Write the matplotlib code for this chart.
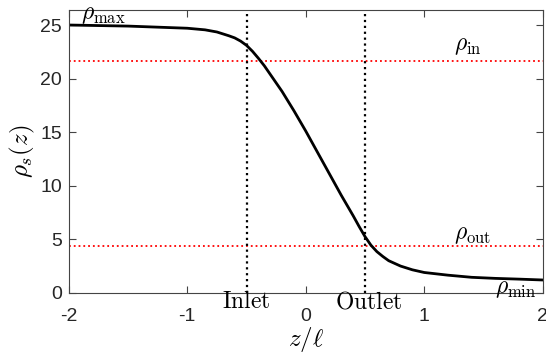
import numpy as np
import matplotlib.pyplot as plt

plt.rcParams['font.family'] = ['Liberation Sans', 'DejaVu Sans']
plt.rcParams['mathtext.fontset'] = 'cm'
plt.rcParams['axes.unicode_minus'] = False

# profile
z = [-2, -1.75, -1.5, -1.25, -1, -0.85, -0.75, -0.65, -0.6, -0.55, -0.5, -0.45,
     -0.4, -0.35, -0.3, -0.2, -0.1, 0, 0.1, 0.2, 0.3, 0.4, 0.45, 0.5, 0.55, 0.6,
     0.65, 0.7, 0.8, 0.9, 1, 1.2, 1.4, 1.6, 1.8, 2]
rho = [25.0, 24.95, 24.9, 24.8, 24.7, 24.55, 24.35, 24.0, 23.8, 23.5, 23.1, 22.55,
       21.9, 21.2, 20.4, 18.8, 17.0, 15.1, 13.1, 11.1, 9.1, 7.2, 6.2, 5.25, 4.45, 3.85,
       3.4, 3.0, 2.5, 2.15, 1.9, 1.65, 1.45, 1.35, 1.28, 1.2]
rho_in = 21.6
rho_out = 4.4
z_inlet = -0.5
z_outlet = 0.5
xticks = [-2, -1, 0, 1, 2]
yticks = [0, 5, 10, 15, 20, 25]

fig = plt.figure(figsize=(5.46, 3.58), dpi=100)
ax = fig.add_axes([0.126, 0.182, 0.868, 0.79])

ax.axhline(rho_in, color='red', ls=':', lw=1.3)
ax.axhline(rho_out, color='red', ls=':', lw=1.3)
ax.axvline(z_inlet, color='black', ls=':', lw=1.6)
ax.axvline(z_outlet, color='black', ls=':', lw=1.6)
ax.plot(z, rho, color='black', lw=2)

ax.set_xlim(-2, 2)
ax.set_ylim(0, 26.4)
ax.set_xticks(xticks)
ax.set_yticks(yticks)
ax.tick_params(direction='in', top=True, right=True, labelsize=14,
               length=5, color='#444444', labelcolor='#262626')
ax.tick_params(axis='x', pad=11)
ax.tick_params(axis='y', pad=5)
for s in ax.spines.values():
    s.set_color('#444444')
    s.set_linewidth(0.8)

ax.set_xlabel(r'$z/\ell$', fontsize=18, labelpad=0)
ax.set_ylabel(r'$\rho_s(z)$', fontsize=18, labelpad=2)

ax.text(-1.9, 25.9, r'$\rho_{\max}$', fontsize=17, va='center', ha='left')
ax.text(1.25, 23.0, r'$\rho_{\mathrm{in}}$', fontsize=17, va='center', ha='left')
ax.text(1.25, 5.4, r'$\rho_{\mathrm{out}}$', fontsize=17, va='center', ha='left')
ax.text(1.6, 0.35, r'$\rho_{\min}$', fontsize=17, va='center', ha='left', clip_on=False)
ax.text(z_inlet, -0.9, r'$\mathrm{Inlet}$', fontsize=17, va='center', ha='center', clip_on=False)
ax.text(z_outlet + 0.03, -0.9, r'$\mathrm{Outlet}$', fontsize=17, va='center', ha='center', clip_on=False)

fig.savefig('out.png', dpi=100)
